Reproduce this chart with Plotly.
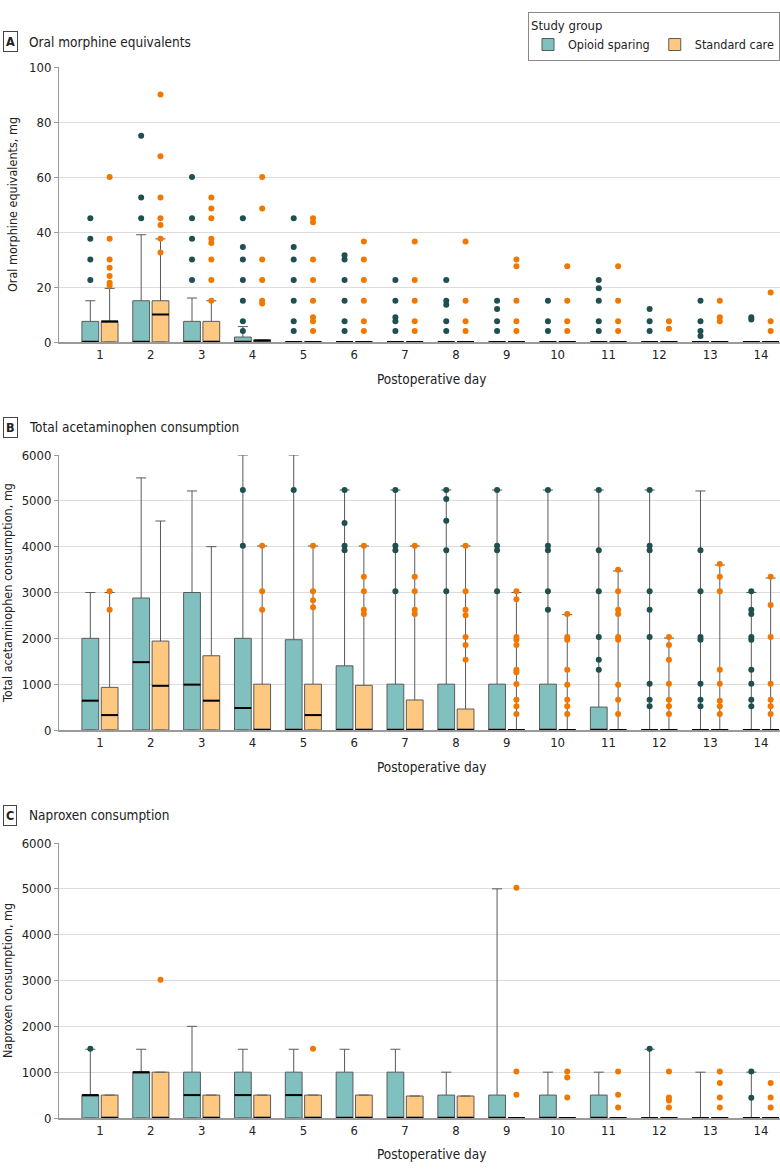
import plotly.graph_objects as go

# Postoperative days
days = list(range(1, 15))

# Panel A: oral morphine equivalents, mg
ome_os_q3 = [7.5, 15, 7.5, 1.8, 0, 0, 0, 0, 0, 0, 0, 0, 0, 0]
ome_os_median = [0, 0, 0, 0, 0, 0, 0, 0, 0, 0, 0, 0, 0, 0]
ome_os_upper = [15, 39, 16, 5.6, 0, 0, 0, 0, 0, 0, 0, 0, 0, 0]
ome_os_points = [
    [45, 37.5, 30, 22.5], [75, 52.5, 45], [60, 45, 37.5, 30, 22.5],
    [45, 34.5, 30, 22.5, 15, 7.5, 4], [45, 34.5, 30, 22.5, 15, 7.5, 4],
    [31.5, 30, 22.5, 15, 7.5, 4], [22.5, 15, 9, 7.5, 4], [22.5, 15, 13.5, 7.5, 4],
    [15, 12, 7.5, 4], [15, 7.5, 4], [22.5, 19.5, 15, 7.5, 4], [12, 7.5, 4],
    [15, 7.5, 4, 2.2], [9, 8.2],
]
ome_sc_q3 = [7.5, 15, 7.5, 0.8, 0, 0, 0, 0, 0, 0, 0, 0, 0, 0]
ome_sc_median = [7.5, 10, 0, 0.5, 0, 0, 0, 0, 0, 0, 0, 0, 0, 0]
ome_sc_upper = [19.5, 37.5, 15, 0.8, 0, 0, 0, 0, 0, 0, 0, 0, 0, 0]
ome_sc_points = [
    [60, 37.5, 30, 27, 24, 21.5, 20.5], [90, 67.5, 52.5, 45, 42.5, 37.5, 32.5],
    [52.5, 48.5, 45, 37.5, 36, 30, 22.5, 15], [60, 48.5, 30, 22.5, 15, 14],
    [45, 43.5, 30, 22.5, 15, 9, 7.5, 4], [36.5, 30, 22.5, 15, 7.5, 4],
    [36.5, 22.5, 15, 7.5, 4], [36.5, 15, 7.5, 4], [30, 27.5, 15, 7.5, 4],
    [27.5, 15, 7.5, 4], [27.5, 15, 7.5, 4], [7.5, 4.8], [15, 9, 7.5], [18, 7.5, 4],
]

# Panel B: total acetaminophen consumption, mg
apap_os_q3 = [2000, 2880, 3000, 2000, 1970, 1400, 1000, 1000, 1000, 1000, 500, 0, 0, 0]
apap_os_median = [640, 1480, 990, 480, 0, 0, 0, 0, 0, 0, 0, 0, 0, 0]
apap_os_upper = [3000, 5500, 5215, 6000, 6000, 5236, 5236, 5236, 5236, 5236, 5236, 5236, 5215, 3000]
apap_os_points = [
    [], [], [], [5236, 4022], [6020, 5236], [5236, 4516, 4022, 3920],
    [5236, 4022, 3920, 3025], [5236, 5040, 4567, 3920, 3025], [5236, 4022, 3920, 3025],
    [5236, 4022, 3920, 3025, 2625], [5236, 3920, 3025, 2029, 1535, 1316],
    [5236, 4022, 3920, 3025, 2625, 2029, 1011, 662, 516],
    [3920, 3025, 2029, 1970, 1011, 662, 516],
    [3025, 2625, 2530, 2029, 1970, 1316, 1011, 662, 516],
]
apap_sc_q3 = [930, 1940, 1620, 1000, 1000, 975, 655, 458, 0, 0, 0, 0, 0, 0]
apap_sc_median = [325, 965, 640, 0, 325, 0, 0, 0, 0, 0, 0, 0, 0, 0]
apap_sc_upper = [3000, 4560, 4000, 4015, 4015, 4015, 4015, 4015, 3000, 2516, 3469, 2007, 3600, 3316]
apap_sc_points = [
    [3025, 2625], [], [], [4022, 3025, 2625], [4022, 3025, 2830, 2676],
    [4022, 3345, 3025, 2625, 2530], [4022, 3345, 3025, 2625, 2530],
    [4022, 3025, 2625, 2502, 2029, 1855, 1535],
    [3025, 2850, 2029, 1970, 1855, 1316, 1258, 1004, 662, 516, 349],
    [2530, 2029, 1970, 1316, 989, 662, 516, 349],
    [3498, 3025, 2625, 2530, 2029, 1970, 989, 662, 349],
    [2029, 1855, 1535, 1011, 662, 516, 349],
    [3622, 3345, 3025, 1316, 1011, 640, 516, 349],
    [3345, 2727, 2029, 1011, 662, 516, 349],
]

# Panel C: naproxen consumption, mg
nap_os_q3 = [500, 1000, 1000, 1000, 1000, 1000, 1000, 500, 500, 500, 500, 0, 0, 0]
nap_os_median = [500, 1000, 500, 500, 500, 0, 0, 0, 0, 0, 0, 0, 0, 0]
nap_os_upper = [1500, 1500, 2000, 1500, 1500, 1500, 1500, 1000, 5000, 1000, 1000, 1500, 1000, 1000]
nap_os_points = [[1510], [], [], [], [], [], [], [], [], [], [], [1510], [], [1015, 440]]
nap_sc_q3 = [500, 1000, 500, 500, 500, 500, 480, 480, 0, 0, 0, 0, 0, 0]
nap_sc_median = [0, 0, 0, 0, 0, 0, 0, 0, 0, 0, 0, 0, 0, 0]
nap_sc_upper = [500, 1000, 500, 500, 500, 500, 480, 480, 0, 0, 0, 0, 0, 0]
nap_sc_points = [
    [], [3015], [], [], [1510], [], [], [], [5025, 1015, 505], [1015, 885, 445],
    [1015, 505, 230], [1015, 445, 380, 230], [1015, 765, 445, 230], [765, 445, 230],
]

# Styling
OS_FILL = "#80c1bf"
SC_FILL = "#ffc880"
OS_DOT = "#1f4f4f"
SC_DOT = "#f07800"
FONT = "DejaVu Sans Condensed, Noto Sans"
OFFSET = 0.19
BOX_W = 0.33

fig = go.Figure()


def add_group(q3, median, upper, points, side, fill, dot, name, ax, show_legend):
    xa, ya = ax
    pos = [d + side * OFFSET for d in days]
    fig.add_trace(go.Box(
        x=pos, q1=[0] * len(days), median=median, q3=q3,
        lowerfence=[0] * len(days), upperfence=upper,
        width=BOX_W, whiskerwidth=0.6, fillcolor=fill,
        line=dict(color="#5a5a5a", width=1), boxpoints=False,
        name=name, legendgroup=name, showlegend=show_legend,
        xaxis=xa, yaxis=ya, hoverinfo="skip",
    ))
    # black median bars
    mx, my = [], []
    for p, m in zip(pos, median):
        mx += [p - BOX_W / 2, p + BOX_W / 2, None]
        my += [m, m, None]
    fig.add_trace(go.Scatter(
        x=mx, y=my, mode="lines", line=dict(color="black", width=2),
        showlegend=False, xaxis=xa, yaxis=ya, hoverinfo="skip",
    ))
    # outliers
    px, py = [], []
    for p, pts in zip(pos, points):
        px += [p] * len(pts)
        py += pts
    fig.add_trace(go.Scatter(
        x=px, y=py, mode="markers", marker=dict(color=dot, size=6),
        showlegend=False, xaxis=xa, yaxis=ya, cliponaxis=False, hoverinfo="skip",
    ))


panels = [
    (("x", "y"), ome_os_q3, ome_os_median, ome_os_upper, ome_os_points,
     ome_sc_q3, ome_sc_median, ome_sc_upper, ome_sc_points),
    (("x2", "y2"), apap_os_q3, apap_os_median, apap_os_upper, apap_os_points,
     apap_sc_q3, apap_sc_median, apap_sc_upper, apap_sc_points),
    (("x3", "y3"), nap_os_q3, nap_os_median, nap_os_upper, nap_os_points,
     nap_sc_q3, nap_sc_median, nap_sc_upper, nap_sc_points),
]
for i, (ax, oq3, omed, oup, opts, sq3, smed, sup, spts) in enumerate(panels):
    add_group(oq3, omed, oup, opts, -1, OS_FILL, OS_DOT, "Opioid sparing", ax, i == 0)
    add_group(sq3, smed, sup, spts, 1, SC_FILL, SC_DOT, "Standard care", ax, i == 0)

H = 1173.0
W = 780.0


def ydom(top_px, bottom_px):
    return [1 - bottom_px / H, 1 - top_px / H]


xdomain = [59 / W, 1.0]
xaxis_common = dict(
    domain=xdomain, range=[0.194, 14.374], tickvals=days, ticktext=[str(d) for d in days],
    showgrid=False, zeroline=False, showline=True, linecolor="#9a9a9a", linewidth=1.5,
    ticks="", tickfont=dict(size=13, color="#222"),
)
yaxis_common = dict(
    showgrid=True, gridcolor="#dcdcdc", gridwidth=1, zeroline=False,
    showline=True, linecolor="#9a9a9a", linewidth=1, ticks="outside", ticklen=4,
    tickcolor="#9a9a9a", tickfont=dict(size=13, color="#222"), automargin=False,
)

fig.update_layout(
    width=780, height=1173,
    margin=dict(l=0, r=0, t=0, b=0),
    paper_bgcolor="white", plot_bgcolor="white",
    font=dict(family=FONT, color="#222"),
    boxmode="overlay",
    xaxis=dict(xaxis_common, anchor="y"),
    xaxis2=dict(xaxis_common, anchor="y2"),
    xaxis3=dict(xaxis_common, anchor="y3"),
    yaxis=dict(yaxis_common, domain=ydom(67, 342), range=[0, 100], dtick=20, anchor="x",
               title=dict(text="Oral morphine equivalents, mg", font=dict(size=12.5), standoff=8)),
    yaxis2=dict(yaxis_common, domain=ydom(455, 730), range=[0, 6000], dtick=1000, anchor="x2",
                title=dict(text="Total acetaminophen consumption, mg", font=dict(size=12.5), standoff=8)),
    yaxis3=dict(yaxis_common, domain=ydom(843, 1118), range=[0, 6000], dtick=1000, anchor="x3",
                title=dict(text="Naproxen consumption, mg", font=dict(size=12.5), standoff=8)),
    legend=dict(
        orientation="h", x=1, xanchor="right", y=1 - 12 / H, yanchor="top",
        title=dict(text="Study group", side="top", font=dict(size=13)),
        font=dict(size=12.5, color="#222"), bordercolor="#8a8a8a", borderwidth=1,
        bgcolor="white",
    ),
)

# panel headings and x-axis titles
for letter, label, ypx, xt_px in [("A", "Oral morphine equivalents", 42, 379),
                                  ("B", "Total acetaminophen consumption", 427, 767),
                                  ("C", "Naproxen consumption", 815, 1154)]:
    fig.add_annotation(x=3 / W, y=1 - ypx / H, xref="paper", yref="paper",
                       text="<b>" + letter + "</b>", showarrow=False, xanchor="left",
                       yanchor="middle", font=dict(size=12.5, color="#222"),
                       bordercolor="#444", borderwidth=1, borderpad=2)
    fig.add_annotation(x=27 / W, y=1 - ypx / H, xref="paper", yref="paper",
                       text=label, showarrow=False, xanchor="left", yanchor="middle",
                       font=dict(size=13.5, color="#222"))
    fig.add_annotation(x=431 / W, y=1 - xt_px / H, xref="paper", yref="paper",
                       text="Postoperative day", showarrow=False, xanchor="center",
                       yanchor="middle", font=dict(size=13.5, color="#222"))

fig.write_html("out.html", config={"displayModeBar": False},
               post_script="document.body.style.margin='0';")
